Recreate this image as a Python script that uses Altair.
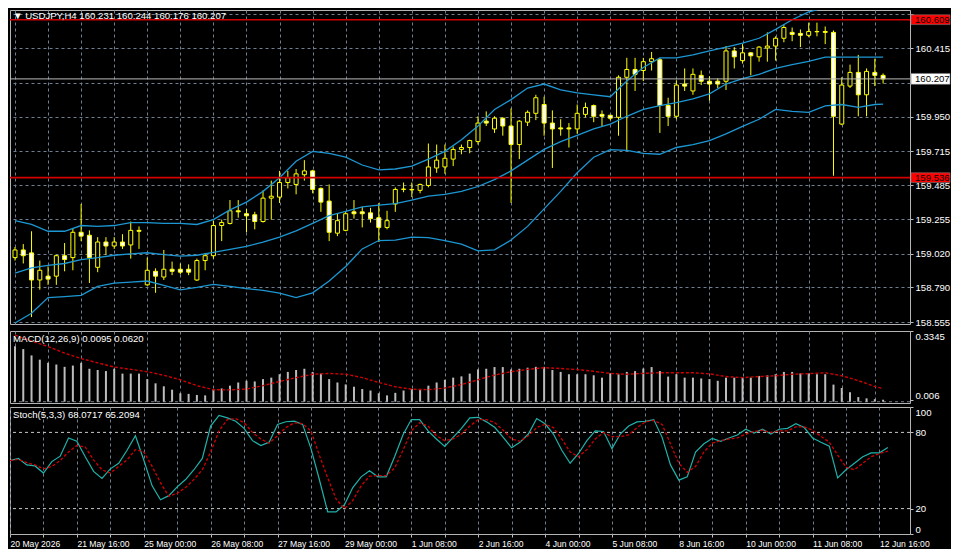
import json
import altair as alt
import pandas as pd

# ---------------- data ----------------
TITLE = "\u25bc USDJPY,H4  160.231 160.244 160.176 160.207"
MACD_TITLE = "MACD(12,26,9) 0.0095 0.0620"
STOCH_TITLE = "Stoch(5,3,3) 68.0717 65.2094"

OPEN = [158.993, 159.045, 159.025, 158.841, 158.867, 158.867, 159.006, 158.993, 159.165, 159.145,
        158.927, 159.099, 159.072, 159.099, 159.079, 159.178, 158.808, 158.900, 158.861, 158.914,
        158.914, 158.914, 158.841, 158.973, 159.006, 159.211, 159.225, 159.311, 159.291, 159.284,
        159.238, 159.397, 159.404, 159.503, 159.490, 159.556, 159.582, 159.463, 159.377, 159.159,
        159.178, 159.304, 159.304, 159.297, 159.264, 159.198, 159.357, 159.456, 159.456, 159.450,
        159.483, 159.602, 159.609, 159.662, 159.728, 159.741, 159.781, 159.920, 159.867, 159.940,
        159.887, 159.761, 159.913, 159.973, 160.033, 159.907, 159.874, 159.874, 159.867, 159.966,
        160.026, 159.966, 159.960, 159.946, 160.218, 160.271, 160.264, 160.324, 160.337, 160.026,
        159.953, 160.172, 160.125, 160.231, 160.191, 160.191, 160.191, 160.397, 160.331, 160.384,
        160.357, 160.417, 160.430, 160.483, 160.523, 160.516, 160.503, 160.529, 160.529, 160.523,
        159.900, 160.158, 160.251, 160.099, 160.251, 160.231]
HIGH = [159.065, 159.085, 159.172, 158.973, 158.933, 159.012, 159.092, 159.191, 159.357, 159.178,
        159.132, 159.132, 159.132, 159.152, 159.238, 159.205, 158.993, 158.920, 159.045, 158.966,
        158.953, 158.947, 158.986, 159.025, 159.244, 159.251, 159.384, 159.384, 159.324, 159.304,
        159.450, 159.516, 159.582, 159.582, 159.595, 159.655, 159.589, 159.470, 159.490, 159.291,
        159.304, 159.384, 159.337, 159.331, 159.364, 159.311, 159.470, 159.503, 159.503, 159.496,
        159.768, 159.761, 159.761, 159.748, 159.761, 159.794, 159.953, 159.986, 159.953, 159.946,
        160.006, 159.927, 159.993, 160.099, 160.086, 159.993, 159.933, 159.907, 160.033, 160.046,
        160.033, 159.993, 159.960, 160.231, 160.350, 160.350, 160.350, 160.390, 160.350, 160.079,
        160.198, 160.278, 160.278, 160.264, 160.225, 160.211, 160.430, 160.423, 160.443, 160.390,
        160.430, 160.523, 160.496, 160.576, 160.556, 160.543, 160.589, 160.589, 160.563, 160.536,
        160.218, 160.304, 160.370, 160.278, 160.344, 160.244]
LOW = [158.973, 158.953, 158.589, 158.775, 158.808, 158.808, 158.900, 158.907, 159.105, 158.821,
       158.894, 159.012, 159.052, 159.052, 158.986, 159.052, 158.801, 158.754, 158.841, 158.874,
       158.880, 158.874, 158.834, 158.907, 158.986, 159.105, 159.218, 159.264, 159.165, 159.185,
       159.231, 159.251, 159.364, 159.463, 159.423, 159.516, 159.430, 159.304, 159.105, 159.139,
       159.172, 159.258, 159.198, 159.231, 159.099, 159.185, 159.304, 159.437, 159.404, 159.430,
       159.470, 159.569, 159.562, 159.615, 159.695, 159.702, 159.761, 159.887, 159.840, 159.821,
       159.364, 159.662, 159.887, 159.927, 159.821, 159.602, 159.821, 159.741, 159.834, 159.946,
       159.913, 159.887, 159.927, 159.821, 159.721, 160.125, 160.192, 160.264, 159.840, 159.887,
       159.933, 160.125, 160.099, 160.165, 160.059, 160.145, 160.132, 160.278, 160.311, 160.231,
       160.324, 160.324, 160.331, 160.456, 160.463, 160.423, 160.490, 160.496, 160.443, 159.549,
       159.893, 160.145, 159.953, 159.953, 160.158, 160.176]
CLOSE = [159.045, 159.006, 158.841, 158.907, 158.847, 159.006, 158.980, 159.165, 159.139, 158.993,
         159.099, 159.072, 159.099, 159.072, 159.178, 159.172, 158.907, 158.867, 158.914, 158.900,
         158.894, 158.894, 158.973, 159.006, 159.211, 159.231, 159.311, 159.304, 159.277, 159.238,
         159.397, 159.410, 159.503, 159.536, 159.562, 159.582, 159.456, 159.370, 159.165, 159.244,
         159.291, 159.291, 159.291, 159.258, 159.198, 159.244, 159.456, 159.459, 159.453, 159.490,
         159.609, 159.655, 159.668, 159.728, 159.741, 159.788, 159.907, 159.907, 159.940, 159.887,
         159.761, 159.920, 159.980, 160.079, 159.907, 159.867, 159.867, 159.867, 159.973, 160.013,
         159.953, 159.953, 159.940, 160.218, 160.271, 160.238, 160.324, 160.344, 160.026, 159.953,
         160.165, 160.158, 160.238, 160.191, 160.172, 160.172, 160.397, 160.357, 160.384, 160.364,
         160.423, 160.430, 160.483, 160.556, 160.509, 160.503, 160.529, 160.527, 160.523, 159.953,
         160.165, 160.251, 160.099, 160.258, 160.231, 160.207]

BAND_IDX = list(range(0, 105, 2)) + [105]
BB_UPPER = [159.244, 159.218, 159.172, 159.172, 159.211, 159.205, 159.211, 159.231, 159.231, 159.225,
            159.225, 159.218, 159.251, 159.317, 159.370, 159.443, 159.536, 159.648, 159.715, 159.701,
            159.675, 159.622, 159.589, 159.595, 159.615, 159.662, 159.715, 159.794, 159.887, 159.999,
            160.066, 160.145, 160.172, 160.132, 160.112, 160.099, 160.086, 160.192, 160.284, 160.350,
            160.350, 160.370, 160.397, 160.423, 160.450, 160.483, 160.543, 160.609, 160.662, 160.690,
            160.720, 160.710, 160.700, 160.700]
BB_MID = [158.887, 158.923, 158.940, 158.953, 158.980, 158.993, 159.009, 159.019, 159.026, 159.013,
          159.003, 159.009, 159.029, 159.049, 159.069, 159.099, 159.132, 159.175, 159.225, 159.278,
          159.307, 159.337, 159.350, 159.360, 159.384, 159.410, 159.423, 159.443, 159.476, 159.523,
          159.582, 159.655, 159.728, 159.781, 159.824, 159.867, 159.900, 159.953, 160.000, 160.026,
          160.046, 160.072, 160.105, 160.172, 160.208, 160.238, 160.278, 160.304, 160.326, 160.355,
          160.355, 160.355, 160.355, 160.355]
BB_LOW = [158.549, 158.615, 158.721, 158.728, 158.736, 158.797, 158.820, 158.827, 158.834, 158.804,
          158.774, 158.791, 158.811, 158.797, 158.783, 158.770, 158.752, 158.721, 158.754, 158.834,
          158.933, 159.052, 159.109, 159.112, 159.132, 159.129, 159.109, 159.085, 159.039, 159.046,
          159.112, 159.205, 159.324, 159.443, 159.569, 159.675, 159.726, 159.721, 159.701, 159.695,
          159.741, 159.761, 159.788, 159.834, 159.884, 159.933, 160.000, 159.986, 159.980, 160.024,
          160.033, 160.013, 160.033, 160.035]

MACD_HIST = [0.262, 0.249, 0.219, 0.199, 0.184, 0.176, 0.165, 0.171, 0.184, 0.156,
             0.150, 0.145, 0.156, 0.133, 0.133, 0.133, 0.107, 0.087, 0.073, 0.057,
             0.040, 0.037, 0.032, 0.030, 0.056, 0.063, 0.076, 0.091, 0.099, 0.096,
             0.107, 0.114, 0.130, 0.141, 0.150, 0.156, 0.141, 0.133, 0.107, 0.091,
             0.082, 0.071, 0.060, 0.053, 0.040, 0.030, 0.042, 0.053, 0.060, 0.060,
             0.076, 0.091, 0.104, 0.114, 0.120, 0.133, 0.153, 0.156, 0.164, 0.164,
             0.153, 0.156, 0.161, 0.165, 0.165, 0.150, 0.141, 0.130, 0.130, 0.130,
             0.125, 0.114, 0.134, 0.130, 0.141, 0.145, 0.157, 0.164, 0.145, 0.119,
             0.130, 0.114, 0.114, 0.110, 0.107, 0.099, 0.114, 0.114, 0.114, 0.114,
             0.122, 0.125, 0.130, 0.141, 0.141, 0.134, 0.134, 0.130, 0.130, 0.081,
             0.065, 0.045, 0.022, 0.016, 0.012, 0.0095]
MACD_SIGNAL = [0.315, 0.287, 0.261, 0.230, 0.204, 0.184, 0.164, 0.153, 0.142, 0.125,
               0.104, 0.076, 0.057, 0.056, 0.060, 0.076, 0.096, 0.114, 0.130, 0.134,
               0.130, 0.114, 0.091, 0.071, 0.059, 0.057, 0.065, 0.081, 0.104, 0.126,
               0.142, 0.153, 0.161, 0.157, 0.152, 0.144, 0.134, 0.130, 0.134, 0.137,
               0.137, 0.137, 0.132, 0.119, 0.114, 0.119, 0.123, 0.130, 0.133, 0.137,
               0.123, 0.100, 0.072, 0.062]

STOCH_MAIN = [57.8, 59.5, 54.4, 53.6, 48.0, 57.0, 61.3, 75.6, 73.1, 60.8,
              49.3, 43.7, 51.3, 55.7, 65.9, 77.4, 58.3, 37.9, 26.9, 30.2,
              37.1, 42.9, 50.6, 59.5, 85.0, 93.4, 91.4, 88.8, 83.2, 73.5,
              69.7, 72.3, 86.3, 88.4, 88.8, 86.3, 67.2, 42.9, 17.4, 17.4,
              23.0, 36.6, 45.0, 49.8, 45.0, 45.0, 60.8, 77.9, 90.1, 90.1,
              81.2, 74.8, 68.9, 76.1, 83.2, 91.4, 91.9, 88.3, 83.8, 76.1,
              67.9, 72.3, 78.7, 90.9, 86.8, 78.7, 65.9, 55.7, 63.4, 73.5,
              81.2, 80.7, 67.2, 78.7, 85.0, 88.3, 88.8, 90.1, 76.1, 54.4,
              42.4, 45.0, 64.6, 71.0, 75.3, 73.0, 75.6, 77.9, 82.5, 79.4,
              82.5, 78.7, 82.5, 83.2, 86.8, 83.8, 75.6, 72.3, 69.2, 44.2,
              50.6, 55.7, 60.8, 63.9, 63.9, 68.07]
STOCH_SIGNAL = [57.8, 58.8, 56.2, 54.4, 51.3, 53.2, 57.8, 64.6, 69.7, 68.5,
                58.3, 50.6, 48.0, 53.2, 58.3, 66.4, 64.6, 53.2, 40.4, 29.7,
                32.0, 36.6, 42.9, 50.6, 64.6, 81.2, 90.1, 90.9, 87.6, 80.0,
                74.8, 71.5, 77.4, 83.8, 87.6, 86.8, 81.2, 62.1, 44.2, 27.6,
                20.0, 26.4, 37.9, 45.5, 46.0, 46.0, 51.9, 65.9, 81.2, 87.6,
                85.0, 77.4, 73.5, 74.8, 78.7, 85.0, 90.1, 90.1, 87.6, 81.7,
                74.8, 73.0, 77.4, 83.8, 86.3, 83.8, 74.8, 64.6, 60.8, 66.4,
                74.8, 79.9, 76.6, 76.6, 78.1, 83.8, 88.3, 89.4, 86.3, 71.0,
                55.7, 48.6, 53.2, 64.6, 71.5, 73.5, 74.8, 75.6, 78.7, 80.7,
                81.7, 79.9, 81.2, 81.2, 84.3, 84.3, 81.7, 76.9, 72.3, 62.1,
                52.6, 50.6, 55.7, 60.8, 63.4, 65.21]

PRICE_TICKS = [158.555, 158.790, 159.020, 159.255, 159.485, 159.715, 159.950, 160.180, 160.415, 160.645]
MACD_TICKS = [0.006, 0.3345]
STOCH_TICKS = [0, 20, 80, 100]
STOCH_LEVELS = [20, 80]
X_LABELS = ["20 May 2026", "21 May 16:00", "25 May 00:00", "26 May 08:00", "27 May 16:00",
            "29 May 00:00", "1 Jun 08:00", "2 Jun 16:00", "4 Jun 00:00", "5 Jun 08:00",
            "8 Jun 16:00", "10 Jun 00:00", "11 Jun 08:00", "12 Jun 16:00"]
LEVEL_PRICES = [160.609, 159.536]
BID_PRICE = 160.207

# ---------------- styling ----------------
W = 900
H_MAIN, H_MACD, H_STO = 314, 72, 127
FONT = "Liberation Sans"
GRID = "#6f7f90"
YEL = "#ffff00"
BAND = "#1c97d4"
RED = "#d20000"
TEAL = "#20b2aa"

xscale = alt.Scale(domain=[0, 107.65], nice=False, zero=False)
X_GRID = list(range(0, 105, 4))


def x_axis(show):
    expr = "datum.value % 8 === 0 ? " + json.dumps(X_LABELS) + "[datum.value / 8] : ''"
    if show:
        return alt.Axis(values=X_GRID, grid=True, gridColor=GRID, gridDash=[3, 3], gridWidth=1,
                        labels=True, labelExpr=expr, labelAlign="left", labelFlush=False,
                        labelOverlap=False, labelColor="white", labelFontSize=8.6, labelPadding=2,
                        ticks=True, tickSize=3, tickColor="#c0c0c0", domain=False, title=None)
    return alt.Axis(values=X_GRID, grid=True, gridColor=GRID, gridDash=[3, 3], gridWidth=1,
                    labels=False, ticks=False, domain=False, title=None)


def X(field, show=False):
    return alt.X(field, type="quantitative", scale=xscale, axis=x_axis(show))


# ---------------- main price panel ----------------
bars = pd.DataFrame({"i": list(range(len(OPEN))), "o": OPEN, "h": HIGH, "l": LOW, "c": CLOSE})
bands = pd.concat([
    pd.DataFrame({"i": BAND_IDX, "p": BB_UPPER, "b": "upper"}),
    pd.DataFrame({"i": BAND_IDX, "p": BB_MID, "b": "mid"}),
    pd.DataFrame({"i": BAND_IDX, "p": BB_LOW, "b": "low"}),
])

yscale_main = alt.Scale(domain=[158.542, 160.675], nice=False, zero=False)
# the 160.645 label is cut off at the top and 160.180 is hidden under the bid box in the reference
y_axis_main = alt.Axis(orient="right", values=PRICE_TICKS, grid=True, gridColor=GRID, gridDash=[3, 3],
                       labelExpr="(datum.value > 160.6 || abs(datum.value - 160.18) < 0.001) ? '' : format(datum.value, '.3f')",
                       labelColor="white", labelFontSize=9.6, labelPadding=2, labelOverlap=False,
                       tickSize=3, tickColor="#c0c0c0", domain=False, title=None)


def YM(field):
    return alt.Y(field, type="quantitative", scale=yscale_main, axis=y_axis_main)


wicks = alt.Chart(bars).mark_rule(color=YEL, strokeWidth=1, clip=True).encode(
    x=X("i"), y=YM("l"), y2="h")
bodies = alt.Chart(bars).mark_bar(size=4, stroke=YEL, strokeWidth=1, clip=True).encode(
    x=X("i"), y=YM("o"), y2="c",
    fill=alt.condition("datum.c < datum.o", alt.value("#ffffff"), alt.value("#000000")))
band_lines = alt.Chart(bands).mark_line(color=BAND, strokeWidth=1.3, clip=True).encode(
    x=X("i"), y=YM("p"), detail="b:N")

lvl = pd.DataFrame({"p": LEVEL_PRICES})
red_lines = alt.Chart(lvl).mark_rule(color=RED, strokeWidth=1.6).encode(y=YM("p"))
bid = pd.DataFrame({"p": [BID_PRICE]})
bid_line = alt.Chart(bid).mark_rule(color="#b8b8b8", strokeWidth=1).encode(y=YM("p"))

boxes = pd.DataFrame({
    "p": LEVEL_PRICES + [BID_PRICE],
    "fill": ["#ff0000", "#ff0000", "#ffffff"],
    "half": [0.033, 0.033, 0.037],
})
boxes["top"] = boxes["p"] + boxes["half"]
boxes["bot"] = boxes["p"] - boxes["half"]
boxes["lbl"] = [f"{v:.3f}" for v in boxes["p"]]
box_rects = alt.Chart(boxes).mark_rect(stroke="#7a7a7a", strokeWidth=0.6, clip=False).encode(
    x=alt.value(W + 1), x2=alt.value(W + 40), y=YM("top"), y2="bot",
    fill=alt.Fill("fill:N", scale=None))
box_text = alt.Chart(boxes).mark_text(align="left", baseline="middle", font=FONT, fontSize=9.6,
                                      color="#000000", clip=False).encode(
    x=alt.value(W + 5), y=YM("p"), text="lbl:N")

title_df = pd.DataFrame({"t": [TITLE]})
title_txt = alt.Chart(title_df).mark_text(align="left", baseline="middle", font=FONT, fontSize=9.6,
                                          color="white").encode(
    x=alt.value(3), y=alt.value(6), text="t:N")

main = alt.layer(wicks, bodies, band_lines, bid_line, red_lines, box_rects, box_text, title_txt).properties(
    width=W, height=H_MAIN)

# ---------------- MACD panel ----------------
macd = pd.DataFrame({"i": list(range(len(MACD_HIST))), "v": MACD_HIST})
macd["z"] = 0.0
macd_sig = pd.DataFrame({"i": BAND_IDX, "v": MACD_SIGNAL})
yscale_macd = alt.Scale(domain=[-0.006, 0.3345], nice=False, zero=False)
y_axis_macd = alt.Axis(orient="right", values=MACD_TICKS, grid=False,
                       labelExpr="datum.value > 0.3 ? format(datum.value, '.4f') : format(datum.value, '.3f')",
                       labelFlush=4, labelColor="white", labelFontSize=9.6, labelPadding=2,
                       labelOverlap=False, tickSize=3, tickColor="#c0c0c0", domain=False, title=None)


def YD(field):
    return alt.Y(field, type="quantitative", scale=yscale_macd, axis=y_axis_macd)


zero_df = pd.DataFrame({"v": [0.0]})
macd_zero = alt.Chart(zero_df).mark_rule(color=GRID, strokeDash=[3, 3], strokeWidth=1).encode(y=YD("v"))
macd_bars = alt.Chart(macd).mark_bar(size=2, color="#bcbcbc", clip=True).encode(
    x=X("i"), y=YD("v"), y2="z")
macd_line = alt.Chart(macd_sig).mark_line(color=RED, strokeDash=[3, 2], strokeWidth=1.4, clip=True).encode(
    x=X("i"), y=YD("v"))
macd_title = alt.Chart(pd.DataFrame({"t": [MACD_TITLE]})).mark_text(
    align="left", baseline="middle", font=FONT, fontSize=9.6, color="white").encode(
    x=alt.value(3), y=alt.value(8), text="t:N")
macd_panel = alt.layer(macd_zero, macd_bars, macd_line, macd_title).properties(width=W, height=H_MACD)

# ---------------- Stochastic panel ----------------
sto = pd.DataFrame({"i": list(range(len(STOCH_MAIN))), "m": STOCH_MAIN, "s": STOCH_SIGNAL})
yscale_sto = alt.Scale(domain=[0, 100], nice=False, zero=False)
y_axis_sto = alt.Axis(orient="right", values=STOCH_TICKS, grid=False, labelFlush=True,
                      labelColor="white", labelFontSize=9.6, labelPadding=2, labelOverlap=False,
                      tickSize=3, tickColor="#c0c0c0", domain=False, title=None)


def YS(field):
    return alt.Y(field, type="quantitative", scale=yscale_sto, axis=y_axis_sto)


lev_df = pd.DataFrame({"v": STOCH_LEVELS})
sto_levels = alt.Chart(lev_df).mark_rule(color="#c8c8c8", strokeDash=[3, 3], strokeWidth=1).encode(y=YS("v"))
sto_main = alt.Chart(sto).mark_line(color=TEAL, strokeWidth=1.2, clip=True).encode(x=X("i", True), y=YS("m"))
sto_sig = alt.Chart(sto).mark_line(color=RED, strokeDash=[3, 2], strokeWidth=1.3, clip=True).encode(
    x=X("i", True), y=YS("s"))
sto_title = alt.Chart(pd.DataFrame({"t": [STOCH_TITLE]})).mark_text(
    align="left", baseline="middle", font=FONT, fontSize=9.6, color="white").encode(
    x=alt.value(3), y=alt.value(8), text="t:N")
sto_panel = alt.layer(sto_levels, sto_main, sto_sig, sto_title).properties(width=W, height=H_STO)

chart = alt.vconcat(main, macd_panel, sto_panel, spacing=2).properties(
    background="black", padding=0
).configure_view(stroke="#b4b4b4", strokeWidth=1).configure_axis(
    labelFont=FONT
)

chart.save("out.html", embed_options={"renderer": "svg", "actions": False})
